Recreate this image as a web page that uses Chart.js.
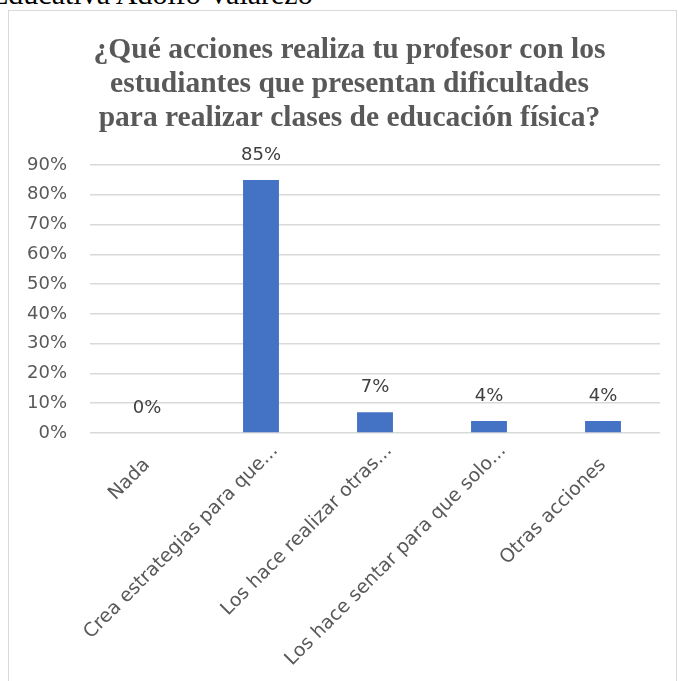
<!DOCTYPE html>
<html lang="es">
<head>
<meta charset="utf-8">
<title>Acciones del profesor</title>
<script src="https://cdn.jsdelivr.net/npm/chart.js@4/dist/chart.umd.min.js"></script>
<style>
  html, body { margin: 0; padding: 0; background: #ffffff; overflow: hidden; }
  #page { position: relative; width: 678px; height: 681px; overflow: hidden; }
  #doc-line {
    position: absolute; left: -10px; top: -21px; white-space: nowrap;
    font: 30px/30px "Liberation Serif", "Times New Roman", serif; color: #000000;
  }
  #frame {
    position: absolute; left: 8px; top: 10px; width: 669px; height: 720px;
    border: 1px solid #d9d9d9; box-sizing: border-box; pointer-events: none;
  }
  #chart { position: absolute; left: 0; top: 0; }
</style>
</head>
<body>
<div id="page">
  <div id="doc-line">Educativa Adolfo Valarezo</div>
  <canvas id="chart" width="678" height="681"></canvas>
  <div id="frame"></div>
</div>
<script>
// Survey answers: share of students choosing each option
const categories = [
  'Nada',
  'Crea estrategias para que...',
  'Los hace realizar otras...',
  'Los hace sentar para que solo...',
  'Otras acciones'
];
const shares = [0, 0.85, 0.07, 0.04, 0.04];
const yTickLabels = ['0%', '10%', '20%', '30%', '40%', '50%', '60%', '70%', '80%', '90%'];
const titleLines = [
  '¿Qué acciones realiza tu profesor con los',
  'estudiantes que presentan dificultades',
  'para realizar clases de educación física?'
];

const pct = v => Math.round(v * 100) + '%';
const labelFont = '"DejaVu Sans", sans-serif';

// Value labels written just above each bar
const valueLabels = {
  id: 'valueLabels',
  afterDatasetsDraw(chart) {
    const ctx = chart.ctx;
    const meta = chart.getDatasetMeta(0);
    ctx.save();
    ctx.font = '18px ' + labelFont;
    ctx.fillStyle = '#404040';
    ctx.textAlign = 'center';
    ctx.textBaseline = 'middle';
    meta.data.forEach((bar, i) => {
      ctx.fillText(pct(shares[i]), bar.x, bar.y - 25);
    });
    ctx.restore();
  }
};

// Category names at 45 degrees, ending at each tick; shortened names
// (ending in "...") sit a little further along their reading direction
const categoryLabels = {
  id: 'categoryLabels',
  afterDraw(chart) {
    const ctx = chart.ctx;
    const xs = chart.scales.x;
    const drop = 29;
    const cutShift = 20;
    const angle = -Math.PI / 4;
    ctx.save();
    ctx.font = '19px ' + labelFont;
    ctx.fillStyle = '#595959';
    ctx.textAlign = 'right';
    ctx.textBaseline = 'middle';
    xs.ticks.forEach((t, i) => {
      const label = categories[i];
      const along = label.endsWith('...') ? cutShift : 0;
      const x = xs.getPixelForTick(i) + along * Math.cos(angle);
      const y = xs.top + drop + along * Math.sin(angle);
      ctx.save();
      ctx.translate(x, y);
      ctx.rotate(angle);
      ctx.fillText(label, 0, 0);
      ctx.restore();
    });
    ctx.restore();
  }
};

new Chart(document.getElementById('chart'), {
  type: 'bar',
  data: {
    labels: categories,
    datasets: [{
      data: shares,
      backgroundColor: '#4472C4',
      borderWidth: 0,
      categoryPercentage: 1,
      barPercentage: 0.315
    }]
  },
  options: {
    responsive: false,
    animation: false,
    devicePixelRatio: 1,
    layout: { padding: { left: 39, right: 18, top: 0, bottom: 0 } },
    plugins: {
      legend: { display: false },
      tooltip: { enabled: false },
      title: {
        display: true,
        text: titleLines,
        color: '#595959',
        font: { family: '"Liberation Serif", "Times New Roman", serif', size: 29.5, weight: 'bold', lineHeight: '34px' },
        padding: { top: 33, bottom: 30 }
      }
    },
    scales: {
      x: {
        grid: { display: false },
        border: { display: false },
        ticks: { display: false },
        afterFit(scale) { scale.height = 248; }
      },
      y: {
        min: 0,
        max: 0.9,
        grid: { color: '#d9d9d9', lineWidth: 1.5, drawTicks: false },
        border: { display: false },
        ticks: {
          stepSize: 0.1,
          // labels right-aligned 23px left of the plot, allowed to extend past the axis box
          mirror: true,
          crossAlign: 'far',
          padding: -63,
          color: '#595959',
          font: { family: labelFont, size: 18 },
          callback: (v, i) => yTickLabels[i]
        },
        afterFit(scale) { scale.width = 51; }
      }
    }
  },
  plugins: [valueLabels, categoryLabels]
});
</script>
</body>
</html>
